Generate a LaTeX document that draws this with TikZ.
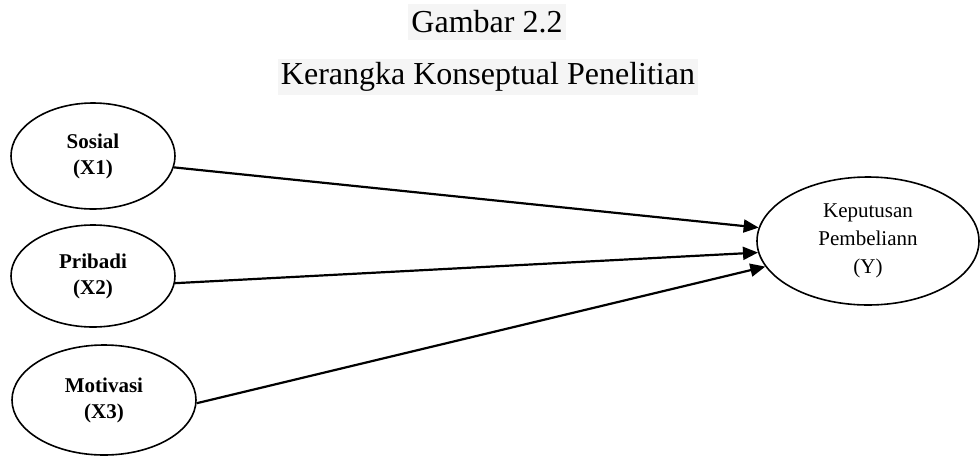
\documentclass[tikz,border=0pt]{standalone}
\usepackage{fontspec}
\setmainfont{Liberation Serif}
\usetikzlibrary{arrows.meta,shapes.geometric}
\definecolor{latar}{HTML}{F5F5F5}
\definecolor{garis}{HTML}{000000}

\begin{document}
\begin{tikzpicture}[x=0.5pt,y=-0.5pt,
    judul/.style={fill=latar, font=\fontsize{16}{19}\selectfont, inner sep=1.5pt, minimum height=18pt},
    var/.style={ellipse, draw=garis, line width=0.8pt, align=center, inner sep=0pt, font=\fontsize{10.5}{13}\selectfont\bfseries},
    hasil/.style={var, font=\fontsize{10.5}{14}\selectfont},
    ar/.style={-{Triangle[length=7.5pt,width=6.5pt]}, line width=1.1pt, garis}]
  \useasboundingbox (0,0) rectangle (980,456);
  \node[judul] (j1) at (487,22) {Gambar 2.2};
  \node[judul] (j2) at (488,77) {Kerangka Konseptual Penelitian};
  \node[var, minimum width=82pt, minimum height=53pt] (x1) at (93,156) {Sosial\\(X1)};
  \node[var, minimum width=82pt, minimum height=51pt] (x2) at (93,276) {Pribadi\\(X2)};
  \node[var, minimum width=92pt, minimum height=55pt] (x3) at (104,400) {Motivasi\\(X3)};
  \node[hasil, minimum width=111pt, minimum height=64pt] (y) at (868,241) {Keputusan\\Pembeliann\\(Y)};
  \foreach \a/\b in {x1.-8/y.173,x2.-5/y.-174,x3.-2/y.-166}{\draw[ar] (\a) -- (\b);}
\end{tikzpicture}
\end{document}
